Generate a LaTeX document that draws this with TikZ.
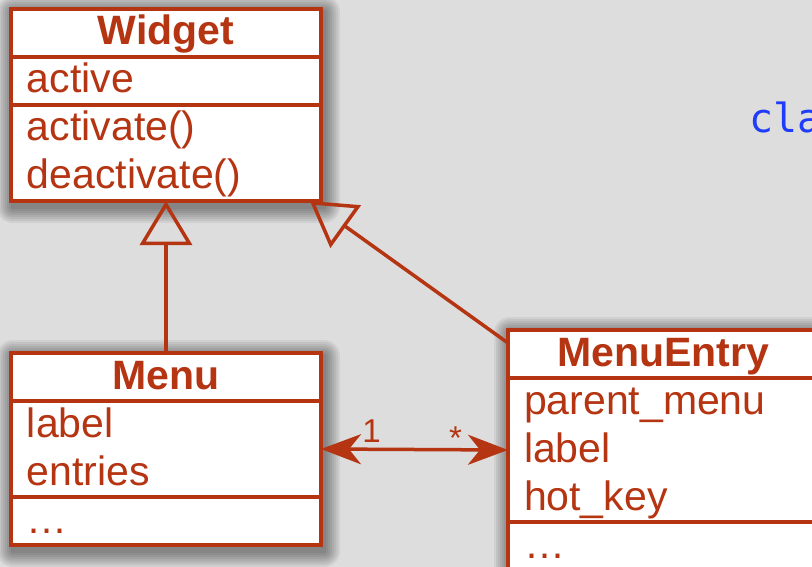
\documentclass[tikz,border=0pt]{standalone}
\usepackage{fontspec}
\setmainfont{Liberation Sans}
\newfontfamily\codefont{DejaVu Sans Mono}
\usepackage{xcolor}
\usepackage{tikz}
\usetikzlibrary{arrows.meta, positioning, backgrounds}

\definecolor{uml}{RGB}{181,52,18}
\definecolor{paper}{RGB}{221,221,221}
\definecolor{codeblue}{RGB}{30,60,250}

\newcommand{\umlfont}{\fontsize{41pt}{48pt}\selectfont}
\newcommand{\umlrow}{\rule[-12pt]{0pt}{48pt}}

\begin{document}
\begin{tikzpicture}[
		x=1pt, y=-1pt,
		line width=3.5pt,
		umlbox/.style={draw=uml, fill=white, text=uml, line width=3.5pt, outer sep=0pt, inner xsep=16pt, inner ysep=0pt, text width=278pt},
		umltitle/.style={umlbox, align=center, font=\umlfont\bfseries},
		umlpart/.style={umlbox, align=left, font=\umlfont},
		inherit/.style={draw=uml, -{Triangle[open, length=44pt, width=52pt]}},
		assoc/.style={draw=uml, {Stealth[length=40pt, width=30pt, inset=12pt]}-{Stealth[length=40pt, width=30pt, inset=12pt]}},
		mult/.style={text=uml, font=\fontsize{33pt}{36pt}\selectfont, inner sep=0pt, anchor=base},
		code/.style={text=codeblue, font=\codefont\fontsize{40pt}{48pt}\selectfont, anchor=base west, inner sep=0pt}
		]
	
	\useasboundingbox (0,0) rectangle (812,567);
	
	% Widget
	\node[umltitle] (widget-title) at (166,33) {\umlrow Widget};
	\node[umlpart, below=0pt of widget-title] (widget-attrs) {\umlrow active};
	\node[umlpart, below=0pt of widget-attrs] (widget-ops) {\umlrow activate()\\\umlrow deactivate()};
	
	% Menu
	\node[umltitle] (menu-title) at (166,377) {\umlrow Menu};
	\node[umlpart, below=0pt of menu-title] (menu-attrs) {\umlrow label\\\umlrow entries};
	\node[umlpart, below=0pt of menu-attrs] (menu-ops) {\umlrow …};
	
	% MenuEntry
	\node[umltitle] (entry-title) at (663,354) {\umlrow MenuEntry};
	\node[umlpart, below=0pt of entry-title] (entry-attrs) {\umlrow parent\_menu\\\umlrow label\\\umlrow hot\_key};
	\node[umlpart, below=0pt of entry-attrs] (entry-ops) {\umlrow …};
	
	% Code
	\node[code] (cla) at (748,133) {cla};
	
	% Generalisation
	\draw[inherit] (menu-title.north) -- (widget-ops.south);
	\draw[inherit] ([yshift=-13pt]entry-title.north west) -- ([xshift=-11pt]widget-ops.south east);
	
	% Association
	\draw[assoc] (menu-attrs.east) -- (entry-attrs.west)
		node[mult, pos=0.27, yshift=7pt] {1}
		node[mult, pos=0.72, yshift=0pt] {*};
	
	% Paper and shadows
	\begin{scope}[on background layer]
		\fill[paper] (0,0) rectangle (812,567);
		\foreach \n in {widget, menu, entry}{
			\foreach \s in {2,4,...,16}{
				\fill[black, opacity=0.06, rounded corners=\s pt]
					([shift={(-\s pt+2pt, \s pt-3pt)}]\n-title.north west) rectangle ([shift={(\s pt+3pt, -\s pt-6pt)}]\n-ops.south east);
			}
		}
	\end{scope}
	
\end{tikzpicture}
\end{document}
